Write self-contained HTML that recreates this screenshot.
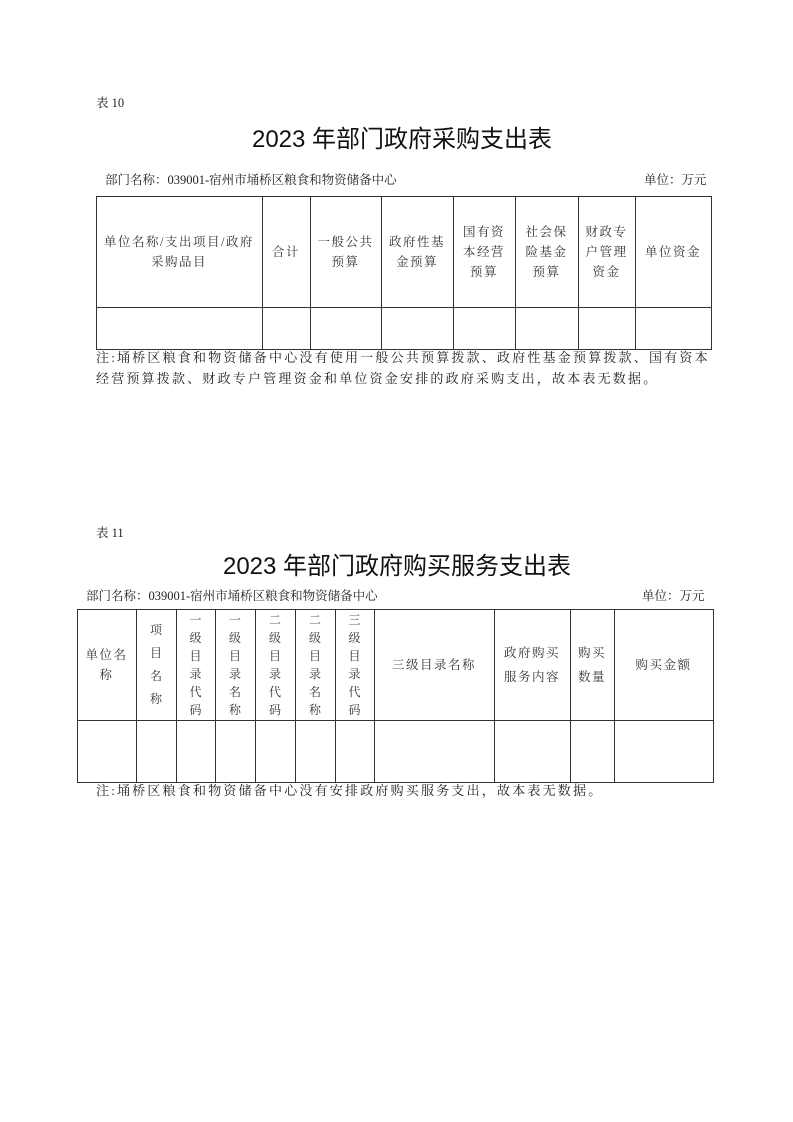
<!DOCTYPE html>
<html><head><meta charset="utf-8"><style>
body{margin:0;width:793px;height:1122px;background:#fff;position:relative;font-family:"Liberation Serif","Noto Serif CJK SC",serif;color:#222;}
.a{position:absolute;white-space:nowrap;}
.t{font-family:"Liberation Sans","Noto Sans CJK SC",sans-serif;font-size:24px;color:#111;transform:translateX(-50%);}
.s{font-size:12.5px;}
.n{font-size:13px;letter-spacing:2.2px;line-height:21px;}
.l{position:absolute;background:#333;}
.c{position:absolute;display:flex;align-items:center;justify-content:center;text-align:center;font-size:12.5px;line-height:20px;letter-spacing:1.5px;color:#333;}
.v{font-size:12px;line-height:18px;letter-spacing:0;}
</style></head><body>
<div class="a s" style="left:96px;top:93px;">表 10</div>
<div class="a t" style="left:402px;top:119px;">2023 年部门政府采购支出表</div>
<div class="a s" style="left:105px;top:170px;">部门名称：039001-宿州市埇桥区粮食和物资储备中心</div>
<div class="a s" style="left:644px;top:170px;">单位：万元</div>

<div class="l" style="left:96px;top:196px;width:616px;height:1px"></div>
<div class="l" style="left:96px;top:307px;width:616px;height:1px"></div>
<div class="l" style="left:96px;top:349px;width:616px;height:1px"></div>
<div class="l" style="left:96px;top:196px;width:1px;height:154px"></div>
<div class="l" style="left:262px;top:196px;width:1px;height:154px"></div>
<div class="l" style="left:310px;top:196px;width:1px;height:154px"></div>
<div class="l" style="left:381px;top:196px;width:1px;height:154px"></div>
<div class="l" style="left:453px;top:196px;width:1px;height:154px"></div>
<div class="l" style="left:515px;top:196px;width:1px;height:154px"></div>
<div class="l" style="left:578px;top:196px;width:1px;height:154px"></div>
<div class="l" style="left:635px;top:196px;width:1px;height:154px"></div>
<div class="l" style="left:711px;top:196px;width:1px;height:154px"></div>
<div class="c" style="left:96px;top:196px;width:166px;height:111px">单位名称/支出项目/政府<br>采购品目</div>
<div class="c" style="left:262px;top:196px;width:48px;height:111px">合计</div>
<div class="c" style="left:310px;top:196px;width:71px;height:111px">一般公共<br>预算</div>
<div class="c" style="left:381px;top:196px;width:72px;height:111px">政府性基<br>金预算</div>
<div class="c" style="left:453px;top:196px;width:62px;height:111px">国有资<br>本经营<br>预算</div>
<div class="c" style="left:515px;top:196px;width:63px;height:111px">社会保<br>险基金<br>预算</div>
<div class="c" style="left:578px;top:196px;width:57px;height:111px">财政专<br>户管理<br>资金</div>
<div class="c" style="left:635px;top:196px;width:76px;height:111px">单位资金</div>
<div class="a n" style="left:96px;top:347px;">注:埇桥区粮食和物资储备中心没有使用一般公共预算拨款、政府性基金预算拨款、国有资本<br>经营预算拨款、财政专户管理资金和单位资金安排的政府采购支出，故本表无数据。</div>

<div class="a s" style="left:96px;top:523px;">表 11</div>
<div class="a t" style="left:397px;top:546px;">2023 年部门政府购买服务支出表</div>
<div class="a s" style="left:86px;top:586px;">部门名称：039001-宿州市埇桥区粮食和物资储备中心</div>
<div class="a s" style="left:642px;top:586px;">单位：万元</div>

<div class="l" style="left:77px;top:609px;width:637px;height:1px"></div>
<div class="l" style="left:77px;top:720px;width:637px;height:1px"></div>
<div class="l" style="left:77px;top:782px;width:637px;height:1px"></div>
<div class="l" style="left:77px;top:609px;width:1px;height:174px"></div>
<div class="l" style="left:136px;top:609px;width:1px;height:174px"></div>
<div class="l" style="left:176px;top:609px;width:1px;height:174px"></div>
<div class="l" style="left:215px;top:609px;width:1px;height:174px"></div>
<div class="l" style="left:255px;top:609px;width:1px;height:174px"></div>
<div class="l" style="left:295px;top:609px;width:1px;height:174px"></div>
<div class="l" style="left:335px;top:609px;width:1px;height:174px"></div>
<div class="l" style="left:374px;top:609px;width:1px;height:174px"></div>
<div class="l" style="left:494px;top:609px;width:1px;height:174px"></div>
<div class="l" style="left:570px;top:609px;width:1px;height:174px"></div>
<div class="l" style="left:614px;top:609px;width:1px;height:174px"></div>
<div class="l" style="left:713px;top:609px;width:1px;height:174px"></div>
<div class="c" style="left:77px;top:609px;width:59px;height:111px">单位名<br>称</div>
<div class="c v" style="left:136px;top:609px;width:40px;height:111px;line-height:23px">项<br>目<br>名<br>称</div>
<div class="c v" style="left:176px;top:609px;width:39px;height:111px">一<br>级<br>目<br>录<br>代<br>码</div>
<div class="c v" style="left:215px;top:609px;width:40px;height:111px">一<br>级<br>目<br>录<br>名<br>称</div>
<div class="c v" style="left:255px;top:609px;width:40px;height:111px">二<br>级<br>目<br>录<br>代<br>码</div>
<div class="c v" style="left:295px;top:609px;width:40px;height:111px">二<br>级<br>目<br>录<br>名<br>称</div>
<div class="c v" style="left:335px;top:609px;width:39px;height:111px">三<br>级<br>目<br>录<br>代<br>码</div>
<div class="c" style="left:374px;top:609px;width:120px;height:111px">三级目录名称</div>
<div class="c" style="left:494px;top:609px;width:76px;height:111px;line-height:24px">政府购买<br>服务内容</div>
<div class="c" style="left:570px;top:609px;width:44px;height:111px;line-height:24px">购买<br>数量</div>
<div class="c" style="left:614px;top:609px;width:99px;height:111px">购买金额</div>
<div class="a n" style="left:96px;top:780px;">注:埇桥区粮食和物资储备中心没有安排政府购买服务支出，故本表无数据。</div>
</body></html>
